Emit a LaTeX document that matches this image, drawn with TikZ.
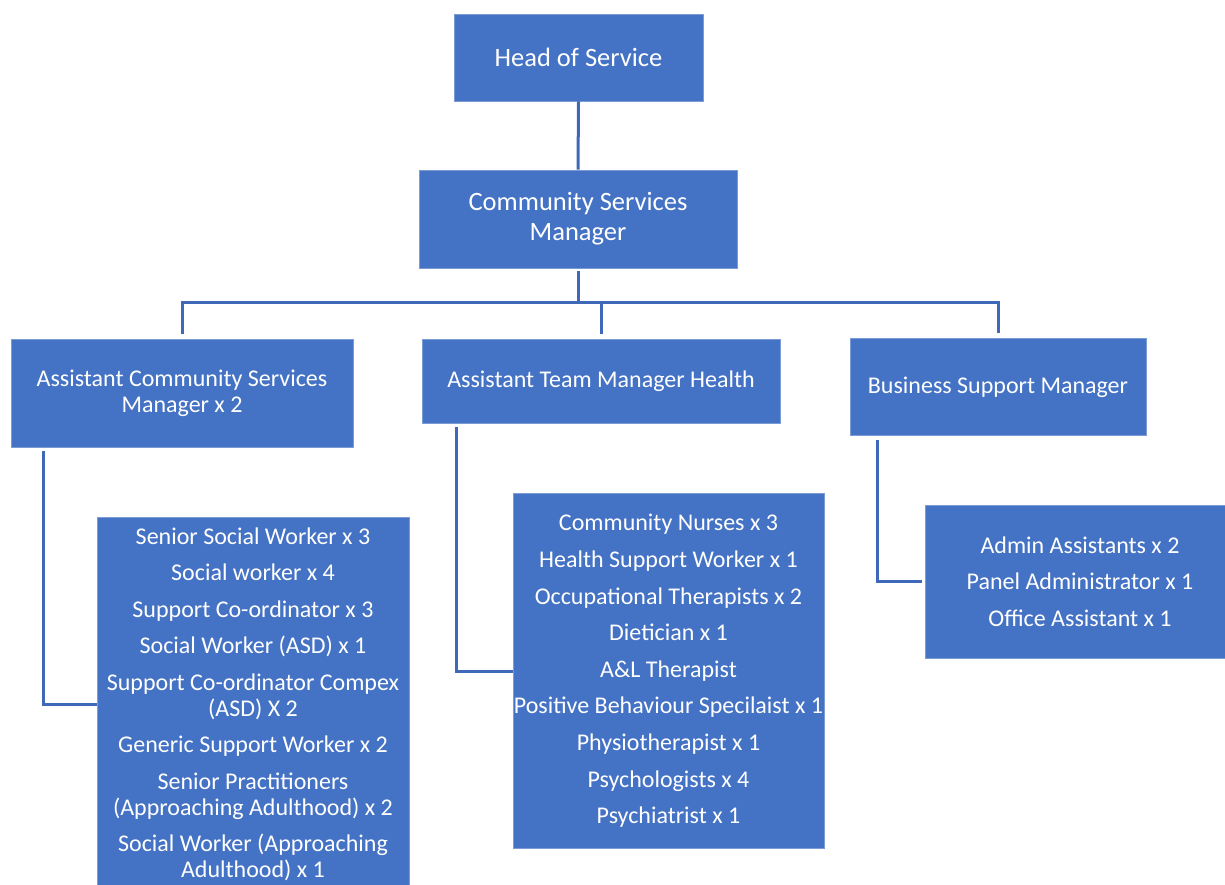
\documentclass[tikz,border=0pt]{standalone}
\usepackage{fontspec}
\setmainfont{Carlito}
\definecolor{boxblue}{HTML}{4472C4}
\definecolor{lineblue}{HTML}{4068B8}
\begin{document}
\begin{tikzpicture}[x=1pt,y=-1pt,
  box/.style={fill=boxblue, draw=boxblue!70!white, line width=0.6pt, text=white, inner sep=0pt, align=center,
    font=\fontsize{24}{26}\selectfont},
  bigbox/.style={box, font=\fontsize{26.5}{28}\selectfont},
  conn/.style={draw=lineblue, line width=3pt}]
\useasboundingbox (0,0) rectangle (1225,884);
\begin{scope}
\clip (0,0) rectangle (1225,884);
\node[bigbox, minimum width=249, minimum height=87] (head) at (578.5,57.5) {Head of Service};
\node[bigbox, minimum width=318, minimum height=98] (csm) at (578,219) {Community Services\\[2pt]Manager};
\node[box, minimum width=342, minimum height=108] (acsm) at (182,393) {Assistant Community Services\\Manager x 2};
\node[box, minimum width=358, minimum height=84] (atmh) at (601,381) {Assistant Team Manager Health};
\node[box, minimum width=296, minimum height=97] (bsm) at (998,387) {Business Support Manager};
\node[box, minimum width=312, minimum height=374] (sw) at (253,704.5) {Senior Social Worker x 3\\[10.5pt]
Social worker x 4\\[10.5pt]
Support Co-ordinator x 3\\[10.5pt]
Social Worker (ASD) x 1\\[10.5pt]
Support Co-ordinator Compex\\(ASD) X 2\\[10.5pt]
Generic Support Worker x 2\\[10.5pt]
Senior Practitioners\\(Approaching Adulthood) x 2\\[10.5pt]
Social Worker (Approaching\\Adulthood) x 1};
\node[box, minimum width=311, minimum height=355] (health) at (668.5,671) {Community Nurses x 3\\[10.6pt]
Health Support Worker x 1\\[10.6pt]
Occupational Therapists x 2\\[10.6pt]
Dietician x 1\\[10.6pt]
A\&L Therapist\\[10.6pt]
Positive Behaviour Specilaist x 1\\[10.6pt]
Physiotherapist x 1\\[10.6pt]
Psychologists x 4\\[10.6pt]
Psychiatrist x 1};
\node[box, minimum width=310, minimum height=153] (admin) at (1080,581.5) {Admin Assistants x 2\\[10.5pt]
Panel Administrator x 1\\[10.5pt]
Office Assistant x 1};
\end{scope}
\coordinate (busL) at (182,302);
\coordinate (busM) at (578,302);
\coordinate (busC) at (601,302);
\coordinate (busR) at (998,302);
\draw[conn] (head.south) -- (csm.north);
\draw[conn, shorten <=3pt] (csm.south) -- (busM);
\draw[conn, line cap=rect] (busL) -- (busR);
\draw[conn, shorten >=5pt] (busL) -- (acsm.north);
\draw[conn, shorten >=5pt] (busC) -- (atmh.north);
\draw[conn, shorten >=5pt] (busR) -- (bsm.north);
\draw[conn, shorten <=4pt] ([xshift=33pt]acsm.south west) |- (sw.west);
\draw[conn, shorten <=4pt] ([xshift=35pt]atmh.south west) |- (health.west);
\draw[conn, shorten <=4pt, shorten >=3pt] ([xshift=28pt]bsm.south west) |- (admin.west);
\end{tikzpicture}
\end{document}
